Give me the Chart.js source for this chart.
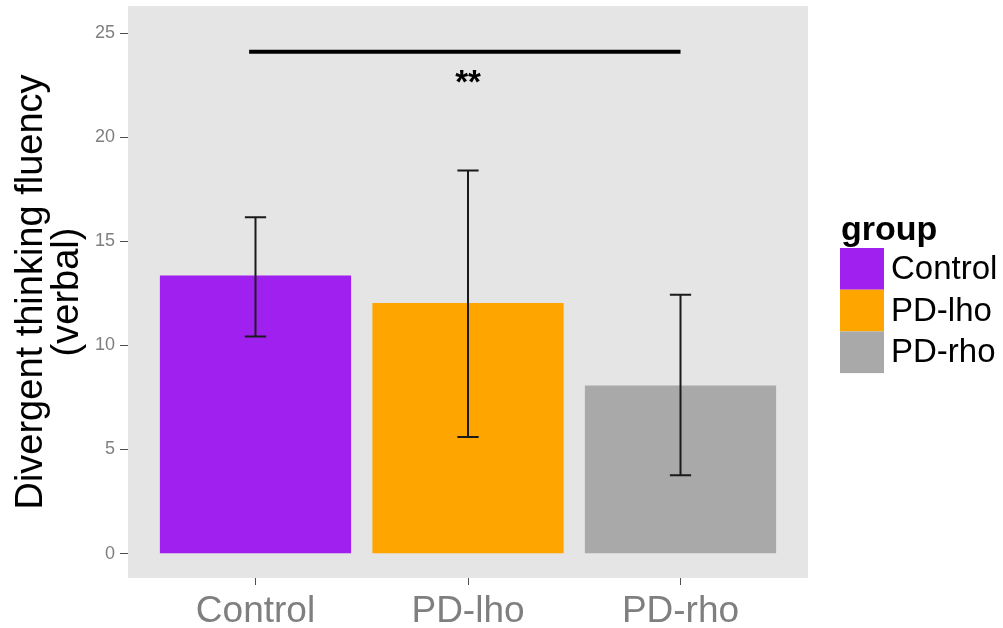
<!DOCTYPE html>
<html>
<head>
<meta charset="utf-8">
<title>Divergent thinking fluency (verbal)</title>
<script src="https://cdn.jsdelivr.net/npm/chart.js@4/dist/chart.umd.min.js"></script>
<style>
  html, body { margin: 0; padding: 0; background: #fff; }
  #wrap { width: 1003px; height: 628px; }
</style>
</head>
<body>
<div id="wrap"><canvas id="chart" width="1003" height="628"></canvas></div>
<script>
// group means with error bar bounds
const groups = ['Control', 'PD-lho', 'PD-rho'];
const groupPos = [0, 1, 2];
const means = [13.36, 12.04, 8.08];
const errLow = [10.43, 5.60, 3.76];
const errHigh = [16.15, 18.40, 12.43];
const groupColors = ['#A020F0', '#FFA500', '#A9A9A9'];

const yTicks = [0, 5, 10, 15, 20, 25];

// significance bracket Control vs PD-rho
const sigFrom = -0.03;
const sigTo = 2.0;
const sigY = 24.1;
const sigLabel = '**';
const sigLabelX = 1;
const sigLabelY = 22.1;

const FONT = "'Liberation Sans', Arial, sans-serif";

const panelBg = {
	id: 'panelBg',
	beforeDraw(chart) {
		const { ctx, chartArea: a } = chart;
		ctx.save();
		ctx.fillStyle = '#E5E5E5';
		ctx.fillRect(a.left, a.top, a.right - a.left, a.bottom - a.top);
		ctx.restore();
	},
};

const errorBars = {
	id: 'errorBars',
	afterDatasetsDraw(chart) {
		const { ctx, scales: { x, y } } = chart;
		ctx.save();
		ctx.strokeStyle = '#1a1a1a';
		ctx.lineWidth = 2;
		groupPos.forEach((p, i) => {
			const cx = x.getPixelForValue(p);
			const half = (x.getPixelForValue(p + 0.05) - x.getPixelForValue(p - 0.05)) / 2;
			const yl = y.getPixelForValue(errLow[i]);
			const yh = y.getPixelForValue(errHigh[i]);
			ctx.beginPath();
			ctx.moveTo(cx, yl);
			ctx.lineTo(cx, yh);
			ctx.moveTo(cx - half, yl);
			ctx.lineTo(cx + half, yl);
			ctx.moveTo(cx - half, yh);
			ctx.lineTo(cx + half, yh);
			ctx.stroke();
		});

		// bracket and stars
		ctx.strokeStyle = '#000';
		ctx.lineWidth = 4;
		ctx.beginPath();
		ctx.moveTo(x.getPixelForValue(sigFrom), y.getPixelForValue(sigY));
		ctx.lineTo(x.getPixelForValue(sigTo), y.getPixelForValue(sigY));
		ctx.stroke();
		ctx.fillStyle = '#000';
		ctx.font = 'bold 33px ' + FONT;
		ctx.textAlign = 'center';
		ctx.textBaseline = 'alphabetic';
		ctx.fillText(sigLabel, x.getPixelForValue(sigLabelX), y.getPixelForValue(sigLabelY));
		ctx.restore();
	},
};

const groupLegend = {
	id: 'groupLegend',
	afterDraw(chart) {
		const { ctx } = chart;
		const left = 840, top = 248, key = 44, keyH = 41.7;
		ctx.save();
		ctx.fillStyle = '#000';
		ctx.font = 'bold 34px ' + FONT;
		ctx.textAlign = 'left';
		ctx.textBaseline = 'alphabetic';
		ctx.fillText('group', left + 1, 240);
		ctx.font = '33px ' + FONT;
		ctx.textBaseline = 'middle';
		groups.forEach((g, i) => {
			const ky = top + i * keyH;
			ctx.fillStyle = groupColors[i];
			ctx.fillRect(left, ky, key, keyH);
			ctx.fillStyle = '#000';
			ctx.fillText(g, left + key + 7, ky + keyH / 2 + 1);
		});
		ctx.restore();
	},
};

const ctx = document.getElementById('chart').getContext('2d');
const chart = new Chart(ctx, {
	type: 'bar',
	data: {
		datasets: [
			{
				label: 'group',
				data: groupPos.map((p, i) => ({ x: p, y: means[i] })),
				backgroundColor: groupColors,
				borderWidth: 0,
				barPercentage: 0.9,
				categoryPercentage: 1.0,
			},
		],
	},
	options: {
		responsive: false,
		animation: false,
		layout: {
			padding: { top: 6, right: 195, left: 0, bottom: 0 },
		},
		scales: {
			x: {
				type: 'linear',
				min: -0.6,
				max: 2.6,
				offset: false,
				afterBuildTicks(axis) {
					axis.ticks = groupPos.map((v) => ({ value: v }));
				},
				afterFit(axis) {
					axis.height = 50;
					axis.paddingLeft = 0;
					axis.paddingRight = 0;
				},
				ticks: {
					callback: (v) => groups[v],
					color: '#7f7f7f',
					font: { family: FONT, size: 37 },
					padding: 5,
					maxRotation: 0,
					autoSkip: false,
				},
				grid: {
					offset: false,
					drawOnChartArea: false,
					drawTicks: true,
					tickLength: 7,
					color: '#4d4d4d',
				},
				border: { display: false },
			},
			y: {
				min: -1.17,
				max: 26.3,
				afterBuildTicks(axis) {
					axis.ticks = yTicks.map((v) => ({ value: v }));
				},
				afterFit(axis) {
					axis.width = 128;
					axis.paddingTop = 0;
					axis.paddingBottom = 0;
				},
				ticks: {
					color: '#7f7f7f',
					font: { family: FONT, size: 18 },
					padding: 5,
				},
				grid: {
					drawOnChartArea: false,
					drawTicks: true,
					tickLength: 8,
					color: '#4d4d4d',
				},
				border: { display: false },
				title: {
					display: true,
					text: ['Divergent thinking fluency', '(verbal)'],
					color: '#000',
					font: { family: FONT, size: 38, lineHeight: 0.95 },
					padding: { top: 13, bottom: 0 },
				},
			},
		},
		plugins: {
			legend: { display: false },
			tooltip: { enabled: false },
		},
	},
	plugins: [panelBg, errorBars, groupLegend],
});
</script>
</body>
</html>
